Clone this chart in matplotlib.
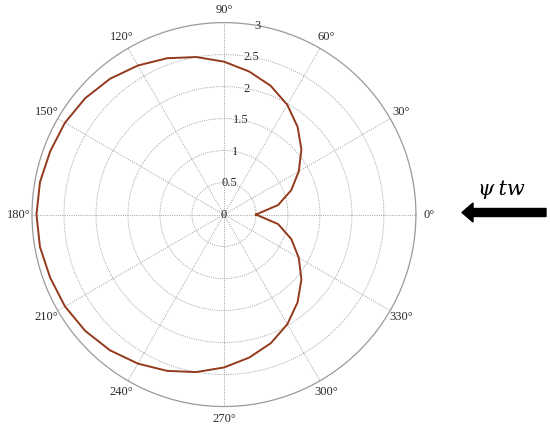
import numpy as np
import matplotlib
matplotlib.use("Agg")
import matplotlib.pyplot as plt
from matplotlib.patches import FancyArrow

# -----------------------------
# Data
# -----------------------------
angle_deg = [0, 10, 20, 30, 40, 50, 60, 70, 80, 90, 100, 110, 120, 130, 140, 150, 160, 170, 180,
             190, 200, 210, 220, 230, 240, 250, 260, 270, 280, 290, 300, 310, 320, 330, 340, 350, 360]
radius = [0.50, 0.86, 1.12, 1.35, 1.58, 1.79, 1.98, 2.14, 2.27, 2.39, 2.50, 2.60, 2.69, 2.77, 2.83, 2.87, 2.89, 2.92, 2.93,
          2.92, 2.89, 2.87, 2.83, 2.77, 2.69, 2.60, 2.50, 2.39, 2.27, 2.14, 1.98, 1.79, 1.58, 1.35, 1.12, 0.86, 0.50]

theta_ticks = [0, 30, 60, 90, 120, 150, 180, 210, 240, 270, 300, 330]
theta_labels = ["0°", "30°", "60°", "90°", "120°", "150°", "180°", "210°", "240°", "270°", "300°", "330°"]
r_ticks = [0, 0.5, 1, 1.5, 2, 2.5, 3]
r_labels = ["0", "0.5", "1", "1.5", "2", "2.5", "3"]

plt.rcParams["font.family"] = ["Liberation Serif", "DejaVu Serif"]

fig = plt.figure(figsize=(5.5, 4.28), dpi=100)

# overlay axes in pixel units for the arrow and label
ov = fig.add_axes([0, 0, 1, 1])
ov.set_xlim(0, 550)
ov.set_ylim(428, 0)
ov.axis("off")

ax = fig.add_axes([0.0582, 0.0502, 0.698, 0.897], projection="polar")

ax.plot(np.radians(angle_deg), radius, color="#93391c", linewidth=1.4, zorder=5)

ax.set_ylim(0, 3)
ax.set_yticks(r_ticks[1:-1])
ax.set_yticklabels([])
ax.set_xticks(np.radians(theta_ticks))
ax.set_xticklabels([])
ax.grid(True, color="#a0a0a0", linestyle=(0, (1, 1.3)), linewidth=0.7)
ax.spines["polar"].set_color("#9a9a9a")
ax.spines["polar"].set_linewidth(0.9)

# angle labels centred on a circle just outside the plot (MATLAB style)
for t, lab in zip(theta_ticks, theta_labels):
    ax.text(np.radians(t), 3.2, lab, ha="center", va="center",
            fontsize=9, color="#2a2a2a", clip_on=False)

for r, lab in zip(r_ticks, r_labels):
    ax.text(np.radians(80) if r > 0 else 0, r, lab, ha="center", va="center",
            fontsize=9, color="#2a2a2a", zorder=6)

# wind arrow and label
ov.add_patch(FancyArrow(546, 212.5, -84, 0, width=8, head_width=19, head_length=11,
                        length_includes_head=True, color="black"))
ov.text(501, 189, "ψ\u2009tw", fontsize=15, style="italic", ha="center", va="center",
        family=["DejaVu Serif"])

fig.savefig("out.png", dpi=100)
